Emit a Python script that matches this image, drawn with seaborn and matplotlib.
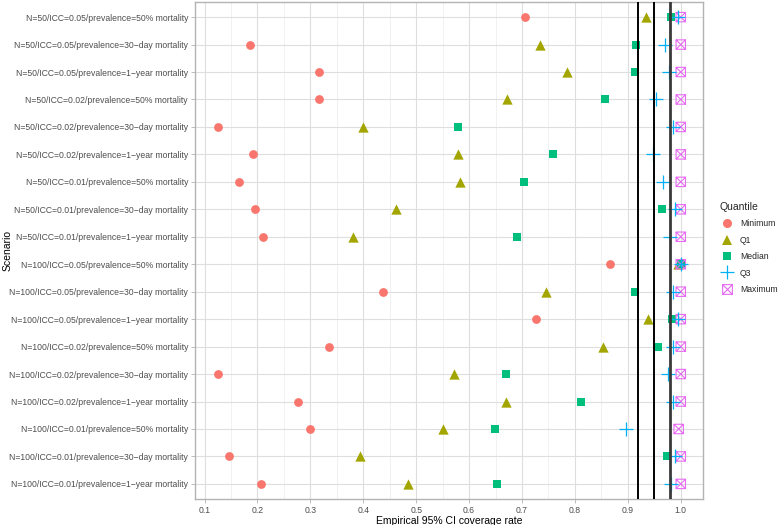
import numpy as np
import pandas as pd
import seaborn as sns
import matplotlib
matplotlib.use("Agg")
import matplotlib.pyplot as plt
from matplotlib.path import Path
from matplotlib.lines import Line2D

scenarios = [
    "N=50/ICC=0.05/prevalence=50% mortality",
    "N=50/ICC=0.05/prevalence=30\u2212day mortality",
    "N=50/ICC=0.05/prevalence=1\u2212year mortality",
    "N=50/ICC=0.02/prevalence=50% mortality",
    "N=50/ICC=0.02/prevalence=30\u2212day mortality",
    "N=50/ICC=0.02/prevalence=1\u2212year mortality",
    "N=50/ICC=0.01/prevalence=50% mortality",
    "N=50/ICC=0.01/prevalence=30\u2212day mortality",
    "N=50/ICC=0.01/prevalence=1\u2212year mortality",
    "N=100/ICC=0.05/prevalence=50% mortality",
    "N=100/ICC=0.05/prevalence=30\u2212day mortality",
    "N=100/ICC=0.05/prevalence=1\u2212year mortality",
    "N=100/ICC=0.02/prevalence=50% mortality",
    "N=100/ICC=0.02/prevalence=30\u2212day mortality",
    "N=100/ICC=0.02/prevalence=1\u2212year mortality",
    "N=100/ICC=0.01/prevalence=50% mortality",
    "N=100/ICC=0.01/prevalence=30\u2212day mortality",
    "N=100/ICC=0.01/prevalence=1\u2212year mortality",
]

minimum = [0.706, 0.186, 0.316, 0.316, 0.126, 0.191, 0.165, 0.196, 0.211,
           0.866, 0.437, 0.726, 0.336, 0.126, 0.276, 0.300, 0.146, 0.206]
q1 = [0.935, 0.734, 0.785, 0.671, 0.399, 0.579, 0.583, 0.461, 0.381,
      0.995, 0.745, 0.938, 0.853, 0.571, 0.669, 0.550, 0.393, 0.484]
median = [0.982, 0.915, 0.913, 0.857, 0.579, 0.759, 0.704, 0.965, 0.691,
          1.000, 0.913, 0.984, 0.957, 0.669, 0.811, 0.648, 0.974, 0.653]
q3 = [0.994, 0.970, 0.977, 0.953, 0.985, 0.947, 0.966, 0.989, 0.980,
      1.000, 0.985, 0.994, 0.985, 0.975, 0.985, 0.896, 0.990, 0.982]
maximum = [1.0, 1.0, 1.0, 1.0, 1.0, 1.0, 1.0, 1.0, 1.0,
           1.0, 1.0, 1.0, 1.0, 1.0, 1.0, 0.996, 1.0, 1.0]

quantiles = ["Minimum", "Q1", "Median", "Q3", "Maximum"]
ref_lines = [0.92, 0.95, 0.98]
x_ticks = [0.1, 0.2, 0.3, 0.4, 0.5, 0.6, 0.7, 0.8, 0.9, 1.0]

df = pd.DataFrame({
    "Scenario": scenarios * 5,
    "Quantile": np.repeat(quantiles, len(scenarios)),
    "value": minimum + q1 + median + q3 + maximum,
})

colors = {"Minimum": "#F8766D", "Q1": "#A3A500", "Median": "#00BF7D",
          "Q3": "#00B0F6", "Maximum": "#E76BF3"}

sq_x = Path(
    [(-1, -1), (1, -1), (1, 1), (-1, 1), (-1, -1), (-1, -1), (1, 1), (-1, 1), (1, -1)],
    [Path.MOVETO, Path.LINETO, Path.LINETO, Path.LINETO, Path.CLOSEPOLY,
     Path.MOVETO, Path.LINETO, Path.MOVETO, Path.LINETO])

markers = {"Minimum": "o", "Q1": "^", "Median": "s", "Q3": "+", "Maximum": sq_x}
sizes = {"Minimum": 40, "Q1": 55, "Median": 38, "Q3": 110, "Maximum": 46}

sns.set_theme(style="white")
plt.rcParams["font.family"] = ["Liberation Sans", "DejaVu Sans"]

fig = plt.figure(figsize=(7.78, 5.25), dpi=100)
ax = fig.add_axes([195 / 778, 1 - 499 / 525, 508 / 778, 497 / 525])

ypos = {s: i for i, s in enumerate(scenarios)}
df["y"] = df["Scenario"].map(ypos)

zorders = {"Minimum": 3, "Q1": 3, "Median": 3, "Maximum": 3, "Q3": 4}
for q in ["Minimum", "Q1", "Median", "Maximum", "Q3"]:
    sub = df[df["Quantile"] == q]
    if q == "Q3":
        sns.scatterplot(data=sub, x="value", y="y", marker="+", color=colors[q],
                        s=sizes[q], linewidth=0.9, ax=ax, zorder=zorders[q], legend=False)
    else:
        sns.scatterplot(data=sub, x="value", y="y", marker=markers[q], color=colors[q],
                        s=sizes[q], linewidth=0 if q != "Maximum" else 0.8,
                        ax=ax, zorder=zorders[q], legend=False)
        if q == "Maximum":
            coll = ax.collections[-1]
            coll.set_facecolor("none")
            coll.set_edgecolor(colors[q])

for i, xv in enumerate(ref_lines):
    ax.axvline(xv, color="black" if i < 2 else "#3a3a3a",
               lw=1.4 if i < 2 else 2.0, zorder=5)

ax.set_xlim(0.082, 1.042)
ax.set_ylim(len(scenarios) - 1 + 0.55, -0.55)
ax.set_xticks(x_ticks)
ax.set_xticklabels([f"{t:.1f}" for t in x_ticks])
ax.set_xticks(np.arange(0.15, 1.0, 0.1), minor=True)
ax.set_yticks(range(len(scenarios)))
ax.set_yticklabels(scenarios)

ax.grid(True, which="major", color="#DEDEDE", lw=0.8, zorder=0)
ax.grid(True, which="minor", axis="x", color="#EBEBEB", lw=0.5, zorder=0)
ax.set_axisbelow(True)
for sp in ax.spines.values():
    sp.set_color("#B3B3B3")
    sp.set_linewidth(1.0)

ax.tick_params(axis="both", which="major", length=3, width=0.6, color="#B3B3B3",
               labelsize=6.25, labelcolor="#4D4D4D", pad=2, left=True, bottom=True)
ax.tick_params(axis="x", which="minor", length=0)

ax.set_xlabel("Empirical 95% CI coverage rate", fontsize=7.5, color="black", labelpad=1)
ax.set_ylabel("Scenario", fontsize=7.5, color="black", va="center")
ax.yaxis.set_label_coords((8 - 195) / 508, 0.5)

handles = []
for q in quantiles:
    if q == "Maximum":
        h = Line2D([], [], ls="none", marker=sq_x, markersize=7.0,
                   markerfacecolor="none", markeredgecolor=colors[q], markeredgewidth=0.8)
    elif q == "Q3":
        h = Line2D([], [], ls="none", marker="+", markersize=10,
                   color=colors[q], markeredgewidth=0.9)
    else:
        ms = {"Minimum": 6.5, "Q1": 7.5, "Median": 6.2}[q]
        h = Line2D([], [], ls="none", marker=markers[q], markersize=ms,
                   color=colors[q], markeredgewidth=0)
    handles.append(h)

leg = fig.legend(handles, quantiles, title="Quantile", loc="upper left",
                 bbox_to_anchor=(720 / 778, 1 - 202 / 525), frameon=False, fontsize=6.25,
                 title_fontsize=7.5, handletextpad=0.8, labelspacing=0.85,
                 handlelength=1.5, borderaxespad=0, borderpad=0)
leg._legend_box.align = "left"

fig.savefig("out.png", dpi=100)
